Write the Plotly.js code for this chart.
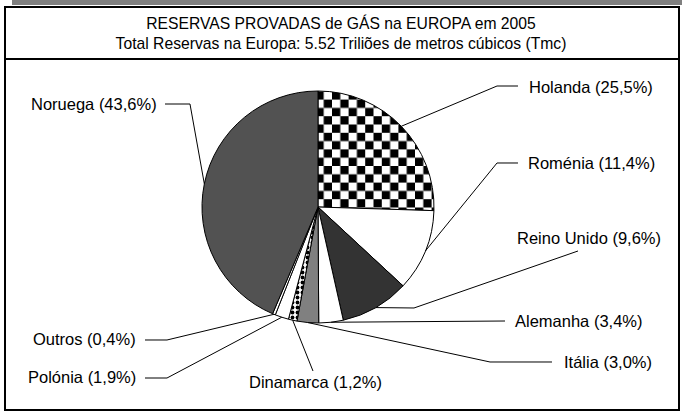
<!DOCTYPE html>
<html>
<head>
<meta charset="utf-8">
<script src="https://cdn.plot.ly/plotly-3.0.1.min.js"></script>
<style>
html,body{margin:0;padding:0;background:#fff;}
#chart{width:682px;height:412px;}
</style>
</head>
<body>
<div id="chart"></div>
<script>
// ---- Data ----
const countries = ["Holanda","Roménia","Reino Unido","Alemanha","Itália","Dinamarca","Polónia","Outros","Noruega"];
const shares = [25.5, 11.4, 9.6, 3.4, 3.0, 1.2, 1.9, 0.4, 43.6];
const shareLabels = ["25,5%","11,4%","9,6%","3,4%","3,0%","1,2%","1,9%","0,4%","43,6%"];
const titleLines = ["RESERVAS PROVADAS de GÁS na EUROPA em 2005",
                    "Total Reservas na Europa: 5.52 Triliões de metros cúbicos (Tmc)"];

// ---- Styling / layout ----
const W = 682, H = 412;
const CX = 318, CY = 207, R = 116;
const sliceColors = ["#ffffff","#ffffff","#333333","#ffffff","#808080","#ffffff","#ffffff","#ffffff","#525252"];
const FONT = '"Liberation Sans", Arial, sans-serif';

// label placement (pixels): text anchor + leader-line bends
const labelPos = {
  "Holanda":     {x:527, y:87,  xa:"left",   bends:[[497,86],[518,86]]},
  "Roménia":     {x:526, y:163, xa:"left",   bends:[[497,163],[518,163]]},
  "Reino Unido": {x:515, y:238, xa:"left",   bends:[[414,308],[578,251]]},
  "Alemanha":    {x:513, y:321, xa:"left",   bends:[[505,321]]},
  "Itália":      {x:562, y:362, xa:"left",   bends:[[490,362],[552,362]]},
  "Dinamarca":   {x:315, y:382, xa:"center", bends:[[313,371]]},
  "Polónia":     {x:138, y:377, xa:"right",  bends:[[167,378],[145,378]]},
  "Outros":      {x:138, y:339, xa:"right",  bends:[[167,340],[145,340]]},
  "Noruega":     {x:159, y:104, xa:"right",  bends:[[190,104],[165,104]]}
};

const px = x => x / W;
const py = y => 1 - y / H;

// anchor points on the wedge edge, computed from the data
const total = shares.reduce((a,b)=>a+b,0);
let cum = 0;
const anchors = shares.map(v => {
  const mid = (cum + v/2) / total;
  cum += v;
  const th = mid * 2 * Math.PI;
  return [CX + R*Math.sin(th), CY - R*Math.cos(th)];
});

const shapes = [
  // grey bar on top
  {type:"rect", xref:"paper", yref:"paper", x0:px(12), x1:px(682), y0:py(0), y1:py(5),
   fillcolor:"#808080", line:{width:0}, layer:"below"},
  // title box
  {type:"rect", xref:"paper", yref:"paper", x0:px(5), x1:px(679), y0:py(7), y1:py(59),
   line:{color:"#000", width:2}, layer:"below"},
  // chart box
  {type:"rect", xref:"paper", yref:"paper", x0:px(5), x1:px(679), y0:py(59), y1:py(410),
   line:{color:"#000", width:2}, layer:"below"}
];

const annotations = [];
countries.forEach((c,i) => {
  const lp = labelPos[c];
  const pts = [anchors[i]].concat(lp.bends);
  const d = pts.map((p,k) => (k? "L":"M") + px(p[0]).toFixed(5) + "," + py(p[1]).toFixed(5)).join(" ");
  shapes.push({type:"path", xref:"paper", yref:"paper", path:d, line:{color:"#000", width:1}});
  annotations.push({xref:"paper", yref:"paper", x:px(lp.x), y:py(lp.y), xanchor:lp.xa, yanchor:"middle",
    text: c + " (" + shareLabels[i] + ")", showarrow:false, font:{family:FONT, size:16.5, color:"#000"}});
});

const trace = {
  type:"pie",
  labels: countries,
  values: shares,
  sort:false,
  direction:"clockwise",
  rotation:0,
  textinfo:"none",
  hoverinfo:"none",
  showlegend:false,
  domain:{x:[px(CX-R), px(CX+R)], y:[py(CY+R), py(CY-R)]},
  marker:{
    colors: sliceColors,
    line:{color:"#000", width:1},
    pattern:{
      shape:["","","","","",".","","",""],
      fgcolor:"#000", bgcolor:"#fff", size:5, solidity:0.45,
      fillmode:"replace"
    }
  }
};

const layout = {
  width:W, height:H,
  margin:{l:0,r:0,t:0,b:0},
  paper_bgcolor:"#fff",
  plot_bgcolor:"#fff",
  title:{text: titleLines.join("<br>"), x:0.5, xanchor:"center", y:1-29/H, yanchor:"middle",
         font:{family:FONT, size:15.7, color:"#000"}},
  shapes: shapes,
  annotations: annotations
};

Plotly.newPlot("chart", [trace], layout, {staticPlot:true, displayModeBar:false}).then(gd => {
  // give Holanda's slice a checkerboard fill
  const svg = gd.querySelector("svg.main-svg");
  const ns = "http://www.w3.org/2000/svg";
  let defs = svg.querySelector("defs");
  if (!defs) { defs = document.createElementNS(ns,"defs"); svg.insertBefore(defs, svg.firstChild); }
  const S = 8.3;
  const pat = document.createElementNS(ns,"pattern");
  pat.setAttribute("id","checkerHolanda");
  pat.setAttribute("patternUnits","userSpaceOnUse");
  pat.setAttribute("width", String(2*S)); pat.setAttribute("height", String(2*S));
  const mk = (x,y,w,h,f) => { const r=document.createElementNS(ns,"rect");
    r.setAttribute("x",x); r.setAttribute("y",y); r.setAttribute("width",w); r.setAttribute("height",h); r.setAttribute("fill",f); return r; };
  pat.appendChild(mk(0,0,2*S,2*S,"#fff"));
  pat.appendChild(mk(S,0,S,S,"#000"));
  pat.appendChild(mk(0,S,S,S,"#000"));
  defs.appendChild(pat);
  const slices = gd.querySelectorAll("g.slice path.surface");
  if (slices.length) {
    slices[0].setAttribute("fill","url(#checkerHolanda)");
    slices[0].style.fill = "url(#checkerHolanda)";
  }
});
</script>
</body>
</html>
